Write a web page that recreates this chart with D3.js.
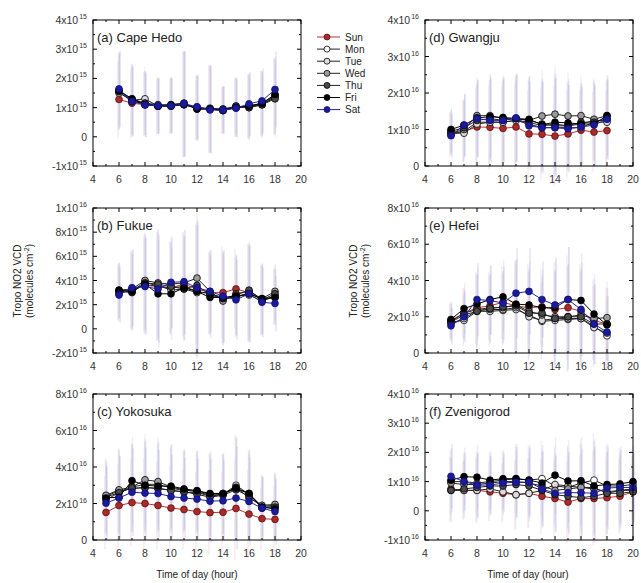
<!DOCTYPE html>
<html lang="en">
<head>
<meta charset="utf-8">
<title>Tropo NO2 VCD by day of week</title>
<script src="https://d3js.org/d3.v7.min.js"></script>
<style>
body {margin: 0; background: #fff;}
svg {font-family: "Liberation Sans", Arial, sans-serif;}
</style>
</head>
<body>
<div id="chart"></div>
<script>

// ---- data (values in units of 10^exp) ----
var days = ["Sun", "Mon", "Tue", "Wed", "Thu", "Fri", "Sat"];

var hoursA = [6, 7, 8, 9, 10, 11, 12, 13, 14, 15, 16, 17, 18];
var capeHedo = [
  [1.28, 1.15, 1.10, 1.05, 1.05, 1.10, 1.00, 0.95, 0.90, 1.00, 1.05, 1.15, 1.40],
  [1.55, 1.30, 1.15, 1.05, 1.05, 1.10, 1.00, 0.95, 0.95, 1.00, 1.05, 1.15, 1.40],
  [1.50, 1.25, 1.30, 1.05, 1.10, 1.15, 0.95, 0.95, 0.90, 1.00, 1.05, 1.10, 1.35],
  [1.60, 1.25, 1.15, 1.10, 1.10, 1.15, 0.98, 0.98, 0.95, 1.05, 1.00, 1.10, 1.40],
  [1.55, 1.20, 1.15, 1.05, 1.05, 1.10, 1.00, 0.95, 0.90, 1.05, 1.00, 1.10, 1.30],
  [1.58, 1.30, 1.10, 1.05, 1.08, 1.12, 0.95, 0.95, 0.92, 1.00, 1.05, 1.15, 1.45],
  [1.64, 1.21, 1.09, 1.06, 1.06, 1.13, 1.03, 0.92, 0.92, 0.98, 1.13, 1.23, 1.62]
];
var capeHedoErr = [1.3, 1.2, 1.1, 0.95, 0.95, 1.8, 1.1, 1.5, 0.8, 1.0, 1.1, 1.1, 1.3];

var hoursB = [6, 7, 8, 9, 10, 11, 12, 13, 14, 15, 16, 17, 18];
var fukue = [
  [3.0, 3.2, 3.6, 3.5, 3.4, 3.7, 3.3, 3.0, 3.0, 3.3, 3.0, 2.4, 2.7],
  [3.1, 3.1, 3.9, 3.5, 3.4, 3.5, 3.1, 2.9, 2.6, 2.6, 3.0, 2.4, 2.6],
  [2.9, 3.3, 3.6, 3.6, 3.2, 3.3, 3.0, 3.0, 2.4, 2.7, 2.8, 2.3, 2.7],
  [3.2, 3.3, 4.0, 3.8, 3.7, 3.8, 4.2, 3.1, 2.3, 2.9, 3.1, 2.5, 3.1],
  [3.1, 3.0, 3.8, 3.7, 3.5, 3.3, 3.6, 2.8, 2.5, 2.8, 3.2, 2.4, 2.9],
  [3.2, 3.1, 3.7, 2.9, 2.9, 3.4, 3.1, 2.6, 2.6, 2.7, 2.9, 2.5, 2.6],
  [2.8, 3.4, 3.5, 3.3, 3.85, 3.9, 3.4, 3.1, 2.7, 2.4, 2.9, 2.2, 2.1]
];
var fukueErr = [2.3, 3.2, 4.0, 4.5, 3.8, 4.3, 5.5, 3.4, 3.8, 3.3, 4.0, 2.9, 2.3];

var hoursC = [5, 6, 7, 8, 9, 10, 11, 12, 13, 14, 15, 16, 17, 18];
var yokosuka = [
  [1.51, 1.89, 2.05, 2.00, 1.89, 1.75, 1.67, 1.56, 1.50, 1.52, 1.73, 1.42, 1.17, 1.13],
  [2.40, 2.70, 2.80, 2.90, 2.80, 2.75, 2.60, 2.60, 2.40, 2.50, 3.00, 2.50, 1.85, 1.90],
  [2.35, 2.60, 2.90, 3.05, 3.05, 2.85, 2.70, 2.70, 2.50, 2.55, 2.80, 2.55, 1.75, 1.85],
  [2.45, 2.75, 2.90, 3.30, 3.20, 2.90, 2.75, 2.65, 2.45, 2.50, 2.90, 2.30, 1.90, 1.95],
  [2.20, 2.60, 2.85, 2.85, 2.85, 2.70, 2.65, 2.50, 2.35, 2.45, 2.75, 2.40, 1.80, 1.80],
  [2.30, 2.35, 3.25, 3.00, 2.95, 2.95, 2.80, 2.70, 2.55, 2.55, 2.85, 2.55, 1.80, 1.70],
  [2.02, 2.30, 2.62, 2.57, 2.55, 2.38, 2.30, 2.24, 2.13, 2.15, 2.30, 2.11, 1.74, 1.56]
];
var yokosukaErr = [2.0, 2.3, 2.4, 2.5, 2.4, 2.3, 2.2, 2.2, 2.3, 2.2, 2.8, 2.4, 1.7, 1.8];

var hoursD = [6, 7, 8, 9, 10, 11, 12, 13, 14, 15, 16, 17, 18];
var gwangju = [
  [0.85, 0.95, 1.07, 1.06, 1.03, 1.07, 0.88, 0.87, 0.82, 0.88, 0.98, 0.93, 0.97],
  [0.90, 0.95, 1.20, 1.20, 1.20, 1.25, 1.20, 1.10, 1.15, 1.10, 1.15, 1.25, 1.25],
  [0.90, 0.90, 1.15, 1.20, 1.20, 1.25, 1.15, 1.05, 1.05, 1.05, 1.05, 1.20, 1.20],
  [0.90, 1.00, 1.38, 1.38, 1.30, 1.30, 1.25, 1.37, 1.42, 1.37, 1.38, 1.28, 1.38],
  [0.95, 1.05, 1.25, 1.30, 1.25, 1.30, 1.25, 1.15, 1.10, 1.10, 1.20, 1.20, 1.30],
  [1.00, 1.12, 1.32, 1.35, 1.33, 1.30, 1.28, 1.13, 1.20, 1.18, 1.15, 1.15, 1.38],
  [0.83, 1.12, 1.30, 1.25, 1.25, 1.32, 1.10, 1.05, 1.05, 1.02, 1.07, 1.12, 1.28]
];
var gwangjuErr = [0.6, 0.85, 1.05, 1.15, 1.15, 1.2, 1.2, 1.25, 1.35, 1.2, 1.1, 1.1, 1.1];

var hoursE = [6, 7, 8, 9, 10, 11, 12, 13, 14, 15, 16, 17, 18];
var hefei = [
  [1.80, 2.20, 2.50, 2.60, 2.80, 2.60, 2.50, 2.55, 2.40, 2.50, 2.30, 1.80, 1.60],
  [1.70, 1.80, 2.30, 2.30, 2.35, 2.40, 2.10, 1.75, 1.80, 1.85, 1.90, 1.50, 0.95],
  [1.60, 1.90, 2.35, 2.40, 2.40, 2.50, 2.00, 1.80, 1.90, 1.90, 1.90, 1.40, 1.10],
  [1.75, 2.20, 2.40, 2.50, 2.50, 2.65, 2.30, 2.10, 2.00, 2.00, 2.10, 1.90, 1.95],
  [1.70, 2.10, 2.30, 2.45, 2.55, 2.60, 2.20, 2.20, 1.90, 2.00, 2.00, 1.60, 1.60],
  [1.85, 2.45, 2.70, 2.95, 3.10, 2.70, 2.65, 2.50, 2.50, 2.95, 2.90, 2.15, 1.55],
  [1.50, 2.00, 2.95, 2.90, 2.75, 3.30, 3.40, 2.95, 2.65, 2.95, 2.40, 1.60, 1.15]
];
var hefeiErr = [1.0, 1.4, 2.0, 1.9, 2.0, 2.5, 2.4, 2.1, 2.6, 2.9, 2.6, 2.2, 2.0];

var hoursF = [6, 7, 8, 9, 10, 11, 12, 13, 14, 15, 16, 17, 18, 19, 20];
var zvenigorod = [
  [0.75, 0.70, 0.70, 0.65, 0.60, 0.55, 0.60, 0.50, 0.42, 0.30, 0.42, 0.42, 0.45, 0.50, 0.65],
  [1.00, 1.00, 0.95, 1.00, 1.05, 1.10, 1.05, 1.10, 0.85, 0.80, 0.95, 1.05, 0.85, 0.85, 0.90],
  [0.70, 0.70, 0.70, 0.75, 0.65, 0.55, 0.60, 0.70, 0.90, 0.85, 0.80, 0.80, 0.60, 0.70, 0.70],
  [0.95, 0.90, 0.90, 0.95, 1.00, 1.00, 0.95, 0.85, 0.70, 0.75, 0.80, 0.75, 0.65, 0.70, 0.75],
  [0.70, 0.75, 0.80, 0.85, 0.85, 0.90, 0.85, 0.70, 0.55, 0.50, 0.45, 0.50, 0.60, 0.60, 0.65],
  [1.05, 1.17, 1.15, 1.05, 1.10, 1.10, 1.05, 0.95, 1.22, 1.02, 1.03, 0.85, 0.90, 0.92, 1.00],
  [1.18, 1.00, 0.88, 0.88, 0.95, 0.98, 0.98, 0.75, 0.60, 0.62, 0.62, 0.60, 0.78, 0.80, 0.80]
];
var zvenigorodErr = [1.1, 1.0, 1.1, 1.0, 1.0, 1.2, 1.2, 1.3, 1.3, 1.4, 1.5, 1.6, 1.4, 1.3, 1.2];

// y ticks for each panel (same units as the values)
var yTicksA = [-1, 0, 1, 2, 3, 4];
var yTicksB = [-2, 0, 2, 4, 6, 8, 10];
var yTicksC = [0, 2, 4, 6, 8];
var yTicksD = [0, 1, 2, 3, 4];
var yTicksE = [0, 2, 4, 6, 8];
var yTicksF = [-1, 0, 1, 2, 3, 4];
var xTicks = [4, 6, 8, 10, 12, 14, 16, 18, 20];

// ---- styles ----
var fills = ["#a82a2a", "#ffffff", "#dcdcdc", "#9a9a9a", "#4a4a4a", "#000000", "#1a1a9c"];
var lineColors = ["#c03030", "#222", "#222", "#222", "#222", "#000", "#2424a8"];
var errColors = ["#e8a0ac", "#c8c8dc", "#d0d0e0", "#c8c8dc", "#c0c0dc", "#b8b8dc", "#8c8ce0"];

var panels = [
  {label: "(a) Cape Hedo", hours: hoursA, vals: capeHedo, err: capeHedoErr, dom: [-1, 4], ticks: yTicksA, minor: 0.5, exp: 15, x0: 93, x1: 301, y0: 20, y1: 166},
  {label: "(b) Fukue", hours: hoursB, vals: fukue, err: fukueErr, dom: [-2, 10], ticks: yTicksB, minor: 1, exp: 15, x0: 93, x1: 301, y0: 208, y1: 353},
  {label: "(c) Yokosuka", hours: hoursC, vals: yokosuka, err: yokosukaErr, dom: [0, 8], ticks: yTicksC, minor: 1, exp: 16, x0: 93, x1: 301, y0: 394, y1: 540},
  {label: "(d) Gwangju", hours: hoursD, vals: gwangju, err: gwangjuErr, dom: [0, 4], ticks: yTicksD, minor: 0.5, exp: 16, x0: 425, x1: 633, y0: 20, y1: 166},
  {label: "(e) Hefei", hours: hoursE, vals: hefei, err: hefeiErr, dom: [0, 8], ticks: yTicksE, minor: 1, exp: 16, x0: 425, x1: 633, y0: 208, y1: 353},
  {label: "(f) Zvenigorod", hours: hoursF, vals: zvenigorod, err: zvenigorodErr, dom: [-1, 4], ticks: yTicksF, minor: 0.5, exp: 16, x0: 425, x1: 633, y0: 394, y1: 540}
];

var svg = d3.select("#chart").append("svg")
  .attr("width", 641)
  .attr("height", 583);

// write "4x10^15" style labels
function tickText(sel, v, exp) {
  if (v === 0) { sel.text("0"); return; }
  var m = v, e = exp;
  if (Math.abs(m) >= 10) { m = m / 10; e = e + 1; }
  sel.append("tspan").text(m + "x10");
  sel.append("tspan").attr("dy", -5).attr("dx", 1).attr("font-size", "7px").text(e);
}

panels.forEach(function(p) {
  var x = d3.scaleLinear().domain([4, 20]).range([p.x0, p.x1]);
  var y = d3.scaleLinear().domain(p.dom).range([p.y1, p.y0]);
  var g = svg.append("g");

  // error bars, one faint bar per day, slightly offset
  p.vals.forEach(function(row, i) {
    var off = (i - 3) * 0.35;
    g.append("g").selectAll("line")
      .data(row)
      .enter().append("line")
        .attr("x1", function(d, j) { return x(p.hours[j]) + off; })
        .attr("x2", function(d, j) { return x(p.hours[j]) + off; })
        .attr("y1", function(d, j) { return y(d - p.err[j]); })
        .attr("y2", function(d, j) { return y(d + p.err[j]); })
        .attr("stroke", errColors[i])
        .attr("stroke-width", 1.1)
        .attr("opacity", 0.3);
  });

  // lines and markers
  p.vals.forEach(function(row, i) {
    var line = d3.line()
      .x(function(d, j) { return x(p.hours[j]); })
      .y(function(d) { return y(d); });
    g.append("path")
      .datum(row)
      .attr("d", line)
      .attr("fill", "none")
      .attr("stroke", lineColors[i])
      .attr("stroke-width", 1);
    g.append("g").selectAll("circle")
      .data(row)
      .enter().append("circle")
        .attr("cx", function(d, j) { return x(p.hours[j]); })
        .attr("cy", function(d) { return y(d); })
        .attr("r", 3.4)
        .attr("fill", fills[i])
        .attr("stroke", i === 6 ? "#101070" : (i === 0 ? "#601010" : "#000"))
        .attr("stroke-width", 0.8);
  });

  // frame
  g.append("rect")
    .attr("x", p.x0).attr("y", p.y0)
    .attr("width", p.x1 - p.x0).attr("height", p.y1 - p.y0)
    .attr("fill", "none").attr("stroke", "#000").attr("stroke-width", 1);

  // inward ticks on all sides
  var xMinor = d3.range(4, 20.01, 1);
  xMinor.forEach(function(h) {
    var len = (h % 2 === 0) ? 4 : 2;
    g.append("line").attr("x1", x(h)).attr("x2", x(h)).attr("y1", p.y1).attr("y2", p.y1 - len).attr("stroke", "#000");
    g.append("line").attr("x1", x(h)).attr("x2", x(h)).attr("y1", p.y0).attr("y2", p.y0 + len).attr("stroke", "#000");
  });
  var yMinor = d3.range(p.dom[0], p.dom[1] + 0.001, p.minor);
  yMinor.forEach(function(v) {
    var len = p.ticks.indexOf(v) >= 0 ? 4 : 2;
    g.append("line").attr("x1", p.x0).attr("x2", p.x0 + len).attr("y1", y(v)).attr("y2", y(v)).attr("stroke", "#000");
    g.append("line").attr("x1", p.x1).attr("x2", p.x1 - len).attr("y1", y(v)).attr("y2", y(v)).attr("stroke", "#000");
  });

  // tick labels
  g.selectAll(".xl")
    .data(xTicks)
    .enter().append("text")
      .attr("x", function(d) { return x(d); })
      .attr("y", p.y1 + 17)
      .attr("text-anchor", "middle")
      .attr("font-size", "10.5px")
      .attr("fill", "#333")
      .text(function(d) { return d; });

  p.ticks.forEach(function(v) {
    var t = g.append("text")
      .attr("x", p.x0 - 6)
      .attr("y", y(v) + 4)
      .attr("text-anchor", "end")
      .attr("font-size", "10.5px")
      .attr("fill", "#333");
    tickText(t, v, p.exp);
  });

  // panel title
  g.append("text")
    .attr("x", p.x0 + 4)
    .attr("y", p.y0 + 22)
    .attr("font-size", "13px")
    .attr("fill", "#222")
    .text(p.label);
});

// y axis titles
[[21, 281], [357, 281]].forEach(function(c) {
  var t = svg.append("text")
    .attr("transform", "translate(" + c[0] + "," + c[1] + ") rotate(-90)")
    .attr("text-anchor", "middle")
    .attr("font-size", "10px")
    .attr("fill", "#222");
  t.append("tspan").attr("x", 0).attr("dy", 0).text("Tropo NO2 VCD");
  t.append("tspan").attr("x", 0).attr("dy", 12).text("(molecules cm");
  t.append("tspan").attr("dy", -4).attr("font-size", "7px").text("-2");
  t.append("tspan").attr("dy", 4).text(")");
});

// x axis titles
[[197, 578], [528, 578]].forEach(function(c) {
  svg.append("text")
    .attr("x", c[0]).attr("y", c[1])
    .attr("text-anchor", "middle")
    .attr("font-size", "10px")
    .attr("fill", "#222")
    .text("Time of day (hour)");
});

// legend
var legend = svg.append("g");
days.forEach(function(dname, i) {
  var ly = 37 + i * 12.1;
  legend.append("line")
    .attr("x1", 317).attr("x2", 340).attr("y1", ly).attr("y2", ly)
    .attr("stroke", lineColors[i]).attr("stroke-width", 1);
  legend.append("circle")
    .attr("cx", 327).attr("cy", ly).attr("r", 3)
    .attr("fill", fills[i])
    .attr("stroke", i === 6 ? "#101070" : (i === 0 ? "#601010" : "#000"))
    .attr("stroke-width", 0.8);
  legend.append("text")
    .attr("x", 345).attr("y", ly + 3.5)
    .attr("font-size", "10px")
    .attr("fill", "#222")
    .text(dname);
});

</script>
</body>
</html>
